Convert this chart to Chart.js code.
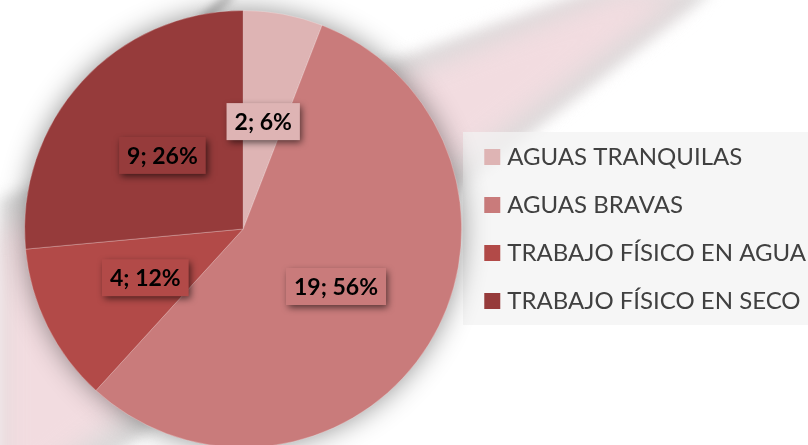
<!DOCTYPE html>
<html>
<head>
<meta charset="utf-8">
<script src="https://cdn.jsdelivr.net/npm/chart.js@4.4.1/dist/chart.umd.min.js"></script>
<style>
  html, body { margin: 0; padding: 0; background: #ffffff; }
  #wrap { width: 808px; height: 445px; overflow: hidden; position: relative; }
  canvas { display: block; }
</style>
</head>
<body>
<div id="wrap"><canvas id="c" width="808" height="458"></canvas></div>
<script>
// ---- data ----
const categories = ['AGUAS TRANQUILAS', 'AGUAS BRAVAS', 'TRABAJO FÍSICO EN AGUA', 'TRABAJO FÍSICO EN SECO'];
const counts = [2, 19, 4, 9];
const sliceColors = ['#DEB4B4', '#C97B7B', '#B24A48', '#963B3B'];

// background decoration (slide swoosh + legend panel)
const backdrop = {
  id: 'backdrop',
  beforeDraw(chart) {
    const ctx = chart.ctx;
    ctx.save();
    ctx.fillStyle = '#ffffff';
    ctx.fillRect(0, 0, chart.width, chart.height);
    // grey outer band
    ctx.filter = 'blur(7px)';
    ctx.fillStyle = 'rgba(210,210,210,0.85)';
    ctx.beginPath();
    ctx.moveTo(596, -10); ctx.lineTo(714, -10); ctx.lineTo(0, 545); ctx.lineTo(0, 198);
    ctx.closePath(); ctx.fill();
    // pink inner band
    ctx.filter = 'blur(14px)';
    ctx.fillStyle = 'rgba(242,220,224,1)';
    ctx.beginPath();
    ctx.moveTo(622, -10); ctx.lineTo(692, -10); ctx.lineTo(0, 510); ctx.lineTo(0, 232);
    ctx.closePath(); ctx.fill();
    // small grey streak at top
    ctx.filter = 'blur(4px)';
    ctx.strokeStyle = 'rgba(170,170,170,0.8)';
    ctx.lineWidth = 8;
    ctx.beginPath(); ctx.moveTo(200, 22); ctx.lineTo(232, -6); ctx.stroke();
    ctx.filter = 'none';
    // legend panel
    ctx.fillStyle = 'rgba(243,243,243,0.75)';
    ctx.fillRect(463, 132, 345, 193);
    ctx.restore();
  },
  beforeDatasetsDraw(chart) {
    const ctx = chart.ctx;
    const a = chart.getDatasetMeta(0).data[0];
    if (!a) return;
    ctx.save();
    ctx.shadowColor = 'rgba(0,0,0,0.45)';
    ctx.shadowBlur = 28;
    ctx.fillStyle = sliceColors[1];
    ctx.beginPath();
    ctx.arc(a.x, a.y, a.outerRadius - 1, 0, Math.PI * 2);
    ctx.fill();
    ctx.restore();
  }
};

// data labels in boxes
const boxLabels = {
  id: 'boxLabels',
  afterDatasetsDraw(chart) {
    const ctx = chart.ctx;
    const ds = chart.data.datasets[0];
    const total = ds.data.reduce((s, v) => s + v, 0);
    const meta = chart.getDatasetMeta(0);
    ctx.save();
    ctx.font = 'bold 23px Lato, "Open Sans", sans-serif';
    ctx.textAlign = 'center';
    ctx.textBaseline = 'middle';
    meta.data.forEach((arc, i) => {
      const p = arc.tooltipPosition();
      const v = ds.data[i];
      const txt = v + '; ' + Math.round(v / total * 100) + '%';
      const w = ctx.measureText(txt).width + 16;
      const h = 37;
      ctx.save();
      ctx.shadowColor = 'rgba(0,0,0,0.6)';
      ctx.shadowBlur = 7;
      ctx.shadowOffsetX = 2;
      ctx.shadowOffsetY = 3;
      ctx.fillStyle = ds.backgroundColor[i];
      ctx.fillRect(p.x - w / 2, p.y - h / 2, w, h);
      ctx.restore();
      ctx.fillStyle = '#000000';
      ctx.fillText(txt, p.x, p.y + 1);
    });
    ctx.restore();
  }
};

new Chart(document.getElementById('c'), {
  type: 'pie',
  data: {
    labels: categories,
    datasets: [{
      data: counts,
      backgroundColor: sliceColors,
      borderColor: 'rgba(255,255,255,0.25)',
      borderWidth: 1
    }]
  },
  options: {
    responsive: false,
    animation: false,
    layout: { padding: { left: 21, top: 10, bottom: 10, right: -8 } },
    plugins: {
      tooltip: { enabled: false },
      legend: {
        position: 'right',
        align: 'center',
        labels: {
          font: { family: 'Lato, "Open Sans", sans-serif', size: 24 },
          color: '#404040',
          usePointStyle: true,
          pointStyle: 'rect',
          boxWidth: 6,
          boxHeight: 16,
          padding: 24,
          generateLabels(chart) {
            return Chart.overrides.pie.plugins.legend.labels.generateLabels(chart)
              .map(l => Object.assign(l, { lineWidth: 0, strokeStyle: 'rgba(0,0,0,0)', pointStyle: 'rect' }));
          }
        }
      }
    }
  },
  plugins: [backdrop, boxLabels]
});
</script>
</body>
</html>
